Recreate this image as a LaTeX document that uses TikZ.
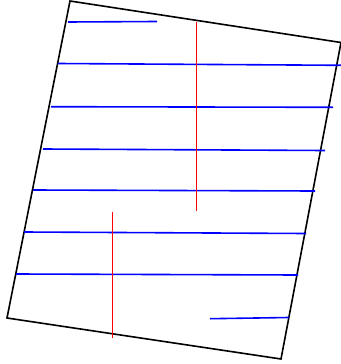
\documentclass[tikz,border=0pt]{standalone}
\begin{document}
\begin{tikzpicture}[x=1pt,y=-1pt,
  frame/.style={draw=black,line width=1.6pt,line join=miter},
  hline/.style={draw=blue,line width=1.6pt},
  vline/.style={draw=red,line width=1.6pt}]
\useasboundingbox (0,0) rectangle (340,364);
\coordinate (TL) at (70,1);
\coordinate (TR) at (341,42.5);
\coordinate (BR) at (281,359);
\coordinate (BL) at (7,318);
\draw[frame] (TL) -- (TR) -- (BR) -- (BL) -- cycle;
% blue horizontal lines
\coordinate (a1) at (68,22);  \coordinate (b1) at (157,21.5);
\coordinate (a2) at (58,63.5);  \coordinate (b2) at (341,65.3);
\coordinate (a3) at (51,106.7); \coordinate (b3) at (333,107.3);
\coordinate (a4) at (43,149); \coordinate (b4) at (325,150.5);
\coordinate (a5) at (33,190); \coordinate (b5) at (315,191);
\coordinate (a6) at (24,232); \coordinate (b6) at (306,233.5);
\coordinate (a7) at (16,274); \coordinate (b7) at (298,275);
\coordinate (a8) at (210,318.7); \coordinate (b8) at (289,317.5);
\foreach \i in {1,...,8} {\draw[hline] (a\i) -- (b\i);}
% red vertical lines
\coordinate (r1t) at (196.5,22); \coordinate (r1b) at (196.5,211);
\coordinate (r2t) at (112.5,212); \coordinate (r2b) at (112.5,338);
\draw[vline] (r1t) -- (r1b);
\draw[vline] (r2t) -- (r2b);
\end{tikzpicture}
\end{document}
